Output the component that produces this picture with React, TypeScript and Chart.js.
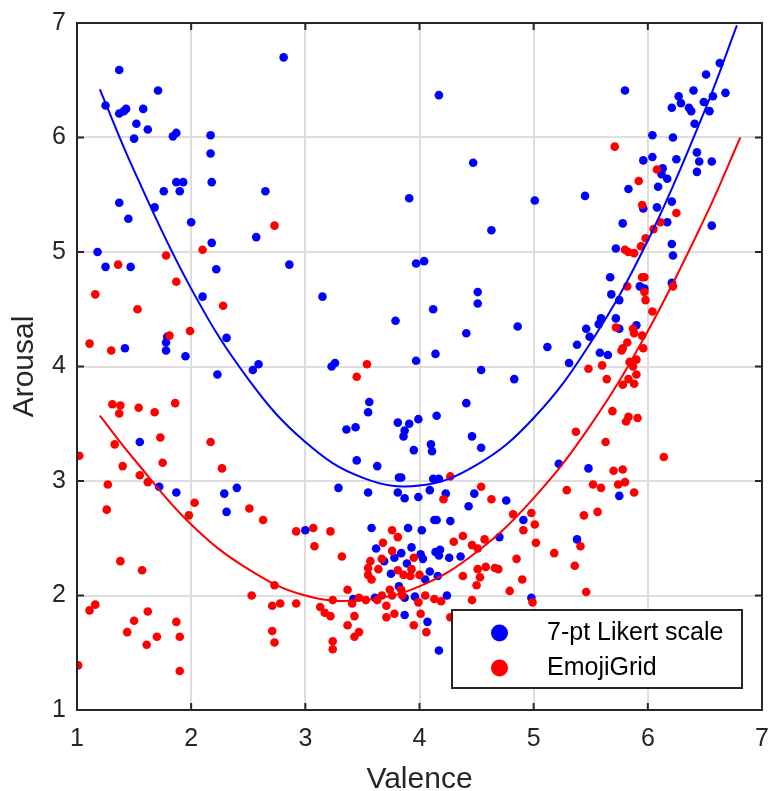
import React, { useEffect, useRef } from 'react';
import { Chart, registerables } from 'chart.js';

Chart.register(...registerables);

// ---------- data ----------
const seriesNames = ['7-pt Likert scale', 'EmojiGrid'];
const xTitle = 'Valence';
const yTitle = 'Arousal';
const tickValues = [1, 2, 3, 4, 5, 6, 7];

const likertPoints: [number, number][] = [
  [1.37, 6.59], [1.71, 6.41], [1.25, 6.28], [1.37, 6.21], [1.41, 6.23], [1.43, 6.25], [1.58, 6.25],
  [1.52, 6.12], [1.62, 6.07], [1.5, 5.99], [1.84, 6.01], [1.87, 6.04], [2.17, 6.02], [2.17, 5.86],
  [1.87, 5.61], [1.93, 5.61], [2.18, 5.61], [1.76, 5.53], [1.9, 5.53], [2.65, 5.53], [1.37, 5.43],
  [1.68, 5.39], [1.45, 5.29], [2.0, 5.26], [2.57, 5.13], [2.18, 5.08], [1.18, 5.0], [2.81, 6.7],
  [4.17, 6.37], [4.47, 5.78], [3.91, 5.47], [5.01, 5.45], [4.63, 5.19],
  [3.97, 4.9], [4.04, 4.92], [3.15, 4.61], [4.51, 4.65], [4.51, 4.55], [4.12, 4.5], [3.79, 4.4],
  [4.41, 4.29], [4.86, 4.35], [3.23, 4.0], [3.26, 4.03], [3.97, 4.05], [4.14, 4.11], [4.54, 3.97],
  [4.83, 3.89], [3.56, 3.69], [3.55, 3.6], [4.41, 3.68], [3.81, 3.51], [3.91, 3.5], [3.99, 3.54],
  [4.15, 3.57], [3.36, 3.45], [3.44, 3.47], [3.87, 3.44], [3.86, 3.39], [4.46, 3.39], [4.54, 3.29],
  [4.1, 3.32], [4.11, 3.26], [3.95, 3.27], [3.45, 3.18], [3.63, 3.13], [3.82, 3.03], [3.84, 3.03],
  [4.12, 3.02], [4.17, 3.02], [3.29, 2.94],
  [5.8, 6.41], [6.63, 6.65], [6.51, 6.55], [6.68, 6.39], [6.4, 6.41], [6.27, 6.36], [6.29, 6.3],
  [6.21, 6.26], [6.36, 6.26], [6.38, 6.23], [6.49, 6.31], [6.57, 6.36], [6.54, 6.23], [6.41, 6.12],
  [6.04, 6.02], [6.22, 6.0], [5.96, 5.8], [6.04, 5.83], [6.25, 5.81], [6.43, 5.87], [6.45, 5.79],
  [6.56, 5.79], [6.13, 5.73], [6.12, 5.68], [6.17, 5.64], [6.43, 5.7], [6.09, 5.57], [5.83, 5.55],
  [5.45, 5.49], [5.96, 5.38], [6.08, 5.39], [6.21, 5.44], [5.78, 5.25], [6.17, 5.26], [6.56, 5.23],
  [5.72, 5.03], [6.21, 5.07], [6.22, 4.97],
  [5.67, 4.78], [5.93, 4.7], [5.97, 4.68], [6.21, 4.73], [5.68, 4.63], [5.75, 4.58], [5.59, 4.42],
  [5.72, 4.42], [5.57, 4.37], [5.46, 4.33], [5.49, 4.26], [5.9, 4.36], [5.75, 4.33], [5.12, 4.17],
  [5.38, 4.19], [5.58, 4.12], [5.65, 4.1], [5.31, 4.03], [5.22, 3.15], [5.48, 3.11],
  [5.75, 2.87], [5.38, 2.49], [4.98, 1.98],
  [1.25, 4.87], [1.47, 4.87], [2.22, 4.85], [2.86, 4.89], [2.1, 4.61], [2.31, 4.25], [1.79, 4.26],
  [1.78, 4.21], [1.78, 4.14], [1.42, 4.16], [1.95, 4.09], [2.54, 3.97], [2.59, 4.02], [2.23, 3.93],
  [1.55, 3.34],
  [1.72, 2.95], [1.87, 2.9], [2.29, 2.89], [2.4, 2.94], [2.31, 2.73], [3.0, 2.57],
  [3.55, 2.9], [3.81, 2.9], [3.87, 2.85], [3.99, 2.86], [4.09, 2.92], [4.23, 2.89], [4.48, 2.89],
  [4.43, 2.78], [4.76, 2.83], [4.91, 2.66], [4.7, 2.51], [3.58, 2.59], [3.9, 2.59], [4.02, 2.57],
  [4.13, 2.66], [4.15, 2.66], [4.27, 2.65], [3.62, 2.41], [3.78, 2.33], [3.84, 2.37], [3.93, 2.42],
  [4.01, 2.36], [4.03, 2.32], [4.14, 2.38], [4.18, 2.4], [4.17, 2.35], [4.26, 2.33], [4.36, 2.34],
  [3.69, 2.3], [3.89, 2.28], [3.75, 2.19], [4.09, 2.21], [4.16, 2.17], [4.05, 2.14], [3.82, 2.08],
  [3.87, 1.98], [3.96, 1.99], [3.61, 1.98], [3.42, 1.97], [4.24, 2.0], [3.87, 1.83], [4.07, 1.77],
  [4.17, 1.52],
];

const emojiPoints: [number, number][] = [
  [2.73, 5.23], [2.1, 5.02], [1.78, 4.97],
  [5.71, 5.92], [6.08, 5.72], [5.92, 5.62], [5.95, 5.41], [6.25, 5.34], [6.11, 5.26], [6.05, 5.2],
  [5.98, 5.12], [5.94, 5.05], [5.8, 5.02], [5.83, 5.0], [5.88, 4.99],
  [5.95, 4.78], [5.97, 4.78], [5.82, 4.7], [5.97, 4.65], [6.22, 4.7], [5.98, 4.58], [6.04, 4.48],
  [5.72, 4.34], [5.87, 4.33], [5.88, 4.29], [5.95, 4.27], [5.82, 4.21], [5.78, 4.16], [5.77, 4.14],
  [5.96, 4.16], [5.9, 4.06], [5.84, 4.04], [5.87, 4.0], [5.48, 3.98], [5.6, 4.01], [5.64, 3.89],
  [5.9, 3.93], [5.83, 3.89], [5.88, 3.85], [5.78, 3.84], [5.69, 3.61], [5.83, 3.56], [5.81, 3.52],
  [5.91, 3.55], [5.37, 3.43], [5.63, 3.34], [6.14, 3.21], [5.7, 3.09], [5.78, 3.1], [5.8, 2.99],
  [5.74, 2.97], [5.52, 2.97], [5.59, 2.94], [5.29, 2.92],
  [5.88, 2.9], [4.98, 2.72], [5.01, 2.62], [5.44, 2.7], [5.56, 2.73], [5.02, 2.46], [5.18, 2.37],
  [5.41, 2.43], [5.36, 2.26], [5.46, 2.03], [4.99, 1.94],
  [3.54, 4.02], [3.45, 3.91], [4.27, 3.04], [4.54, 2.95],
  [1.36, 4.89], [1.87, 4.74], [1.16, 4.63], [1.53, 4.5], [2.28, 4.53], [1.99, 4.31], [1.81, 4.27],
  [1.11, 4.2], [1.3, 4.14], [1.31, 3.67], [1.38, 3.66], [1.37, 3.59], [1.54, 3.64], [1.68, 3.6],
  [1.86, 3.68], [1.33, 3.32], [1.73, 3.38], [2.17, 3.34], [1.02, 3.22], [1.75, 3.16], [1.4, 3.13],
  [2.27, 3.11], [1.55, 3.05], [1.62, 2.99], [1.27, 2.97],
  [1.26, 2.75], [2.03, 2.81], [1.98, 2.7], [2.51, 2.76], [2.63, 2.66], [2.92, 2.56], [1.38, 2.3],
  [1.57, 2.22], [2.73, 2.09], [2.53, 2.0], [2.71, 1.91], [2.78, 1.93], [2.92, 1.93], [1.11, 1.87],
  [1.16, 1.92], [1.62, 1.86], [1.5, 1.78], [1.44, 1.68], [1.87, 1.77], [1.7, 1.64], [1.9, 1.64],
  [1.61, 1.57], [2.71, 1.69], [2.73, 1.59], [1.01, 1.39], [1.9, 1.34],
  [4.21, 2.84], [4.63, 2.84], [4.82, 2.71], [4.91, 2.57], [3.07, 2.59], [3.22, 2.56], [3.08, 2.43],
  [3.32, 2.34], [3.76, 2.57], [3.81, 2.51], [3.68, 2.46], [3.76, 2.39], [3.67, 2.32], [3.95, 2.33],
  [3.57, 2.3], [3.55, 2.24], [3.64, 2.23], [3.55, 2.18], [3.58, 2.14], [3.81, 2.22], [3.86, 2.18],
  [3.93, 2.23], [3.92, 2.17], [4.0, 2.18], [4.3, 2.47], [4.38, 2.52], [4.46, 2.44], [4.51, 2.41],
  [4.57, 2.49], [4.85, 2.32], [4.38, 2.17], [4.51, 2.23], [4.53, 2.16], [4.5, 2.09], [4.58, 2.25],
  [4.66, 2.24], [4.69, 2.23], [4.9, 2.14], [4.79, 2.04], [4.46, 1.96], [3.37, 2.05], [3.24, 1.96],
  [3.41, 1.93], [3.47, 1.98], [3.53, 1.96], [3.63, 1.96], [3.67, 2.0], [3.71, 1.91], [3.74, 2.05],
  [3.76, 2.0], [3.84, 2.05], [3.85, 2.0], [3.99, 1.94], [4.05, 2.0], [4.13, 1.97], [4.19, 1.95],
  [3.13, 1.9], [3.17, 1.85], [3.22, 1.82], [3.43, 1.82], [3.37, 1.74], [3.71, 1.81], [3.78, 1.84],
  [4.01, 1.84], [3.95, 1.74], [4.06, 1.68], [3.47, 1.68], [3.43, 1.64], [3.24, 1.6], [3.24, 1.53],
  [4.27, 1.81],
];

// quadratic-fit curves
const likertFitX = [1.2, 1.5, 2.0, 2.5, 3.0, 3.5, 4.0, 4.5, 5.0, 5.5, 6.0, 6.5, 6.78];
const likertFitY = [6.42, 5.71, 4.68, 3.89, 3.34, 3.03, 2.96, 3.14, 3.55, 4.21, 5.1, 6.24, 6.98];
const emojiFitX = [1.2, 1.5, 2.0, 2.5, 3.0, 3.5, 4.0, 4.5, 5.0, 5.5, 6.0, 6.5, 6.81];
const emojiFitY = [3.57, 3.19, 2.62, 2.23, 2.0, 1.96, 2.08, 2.38, 2.85, 3.49, 4.31, 5.3, 6.0];

// ---------- styling ----------
const FONT = '"Liberation Sans", Arial, Helvetica, sans-serif';
const INK = '#262626';
const BLUE = '#0000ff';
const RED = '#ff0000';

const framePlugin = {
  id: 'matlabFrame',
  afterDraw(chart: any) {
    const { ctx, chartArea } = chart;
    const { left, right, top, bottom } = chartArea;
    const xs = chart.scales.x;
    const ys = chart.scales.y;
    ctx.save();
    ctx.strokeStyle = INK;
    ctx.lineWidth = 2;
    ctx.strokeRect(left, top, right - left, bottom - top);
    const tl = 7;
    ctx.beginPath();
    tickValues.forEach((v) => {
      const px = xs.getPixelForValue(v);
      ctx.moveTo(px, bottom);
      ctx.lineTo(px, bottom - tl);
      ctx.moveTo(px, top);
      ctx.lineTo(px, top + tl);
      const py = ys.getPixelForValue(v);
      ctx.moveTo(left, py);
      ctx.lineTo(left + tl, py);
      ctx.moveTo(right, py);
      ctx.lineTo(right - tl, py);
    });
    ctx.stroke();

    // legend box (MATLAB style, inside axes, bottom-right)
    const bw = 290;
    const bh = 78;
    const bx = right - 20 - bw;
    const by = bottom - 22 - bh;
    ctx.fillStyle = '#ffffff';
    ctx.fillRect(bx, by, bw, bh);
    ctx.lineWidth = 2;
    ctx.strokeStyle = INK;
    ctx.strokeRect(bx, by, bw, bh);
    const items = [
      { label: seriesNames[0], color: BLUE, y: by + 23 },
      { label: seriesNames[1], color: RED, y: by + 58 },
    ];
    ctx.font = `25px ${FONT}`;
    ctx.textBaseline = 'middle';
    ctx.textAlign = 'left';
    items.forEach((it) => {
      ctx.fillStyle = it.color;
      ctx.beginPath();
      ctx.arc(bx + 47.5, it.y, 8.5, 0, Math.PI * 2);
      ctx.fill();
      ctx.fillStyle = '#000000';
      ctx.fillText(it.label, bx + 95, it.y);
    });
    ctx.restore();
  },
};

export default function App() {
  const ref = useRef<HTMLCanvasElement | null>(null);

  useEffect(() => {
    if (!ref.current) return;
    const toXY = (pts: [number, number][]) => pts.map(([x, y]) => ({ x, y }));
    const fit = (xs: number[], ys: number[]) => xs.map((x, i) => ({ x, y: ys[i] }));

    const chart = new Chart(ref.current, {
      type: 'scatter',
      data: {
        datasets: [
          {
            type: 'line',
            label: seriesNames[0] + ' fit',
            data: fit(likertFitX, likertFitY),
            borderColor: BLUE,
            borderWidth: 2,
            pointRadius: 0,
            tension: 0.4,
            fill: false,
            order: 0,
          } as any,
          {
            type: 'line',
            label: seriesNames[1] + ' fit',
            data: fit(emojiFitX, emojiFitY),
            borderColor: RED,
            borderWidth: 2,
            pointRadius: 0,
            tension: 0.4,
            fill: false,
            order: 1,
          } as any,
          {
            label: seriesNames[1],
            data: toXY(emojiPoints),
            backgroundColor: RED,
            borderColor: RED,
            borderWidth: 0,
            pointRadius: 4.3,
            order: 2,
          },
          {
            label: seriesNames[0],
            data: toXY(likertPoints),
            backgroundColor: BLUE,
            borderColor: BLUE,
            borderWidth: 0,
            pointRadius: 4.3,
            order: 3,
          },
        ],
      },
      options: {
        responsive: false,
        animation: false,
        events: [],
        layout: { padding: { top: 23, right: 7, left: 0, bottom: 0 } },
        plugins: {
          legend: { display: false },
          tooltip: { enabled: false },
        },
        scales: {
          x: {
            type: 'linear',
            min: 1,
            max: 7,
            afterFit: (s: any) => {
              s.height = 81;
              s.paddingLeft = 0;
              s.paddingRight = 0;
            },
            ticks: {
              stepSize: 1,
              autoSkip: false,
              maxRotation: 0,
              padding: 14,
              color: INK,
              font: { family: FONT, size: 25 },
            },
            grid: { color: '#dedede', lineWidth: 2, drawTicks: false },
            border: { display: false },
            title: {
              display: true,
              text: xTitle,
              color: INK,
              font: { family: FONT, size: 30, lineHeight: 0.77 },
              padding: { top: 0, bottom: 0 },
            },
          },
          y: {
            type: 'linear',
            min: 1,
            max: 7,
            afterFit: (s: any) => {
              s.width = 77;
              s.paddingTop = 0;
              s.paddingBottom = 0;
            },
            ticks: {
              stepSize: 1,
              autoSkip: false,
              padding: 11,
              color: INK,
              font: { family: FONT, size: 25 },
            },
            grid: { color: '#dedede', lineWidth: 2, drawTicks: false },
            border: { display: false },
            title: {
              display: true,
              text: yTitle,
              color: INK,
              font: { family: FONT, size: 30, lineHeight: 0.77 },
              padding: { top: 13, bottom: 0 },
            },
          },
        },
      },
      plugins: [framePlugin],
    });
    return () => chart.destroy();
  }, []);

  return (
    <div style={{ position: 'absolute', left: 0, top: 0, width: 769, height: 791, background: '#fff' }}>
      <canvas ref={ref} width={769} height={791} style={{ display: 'block' }} />
    </div>
  );
}
